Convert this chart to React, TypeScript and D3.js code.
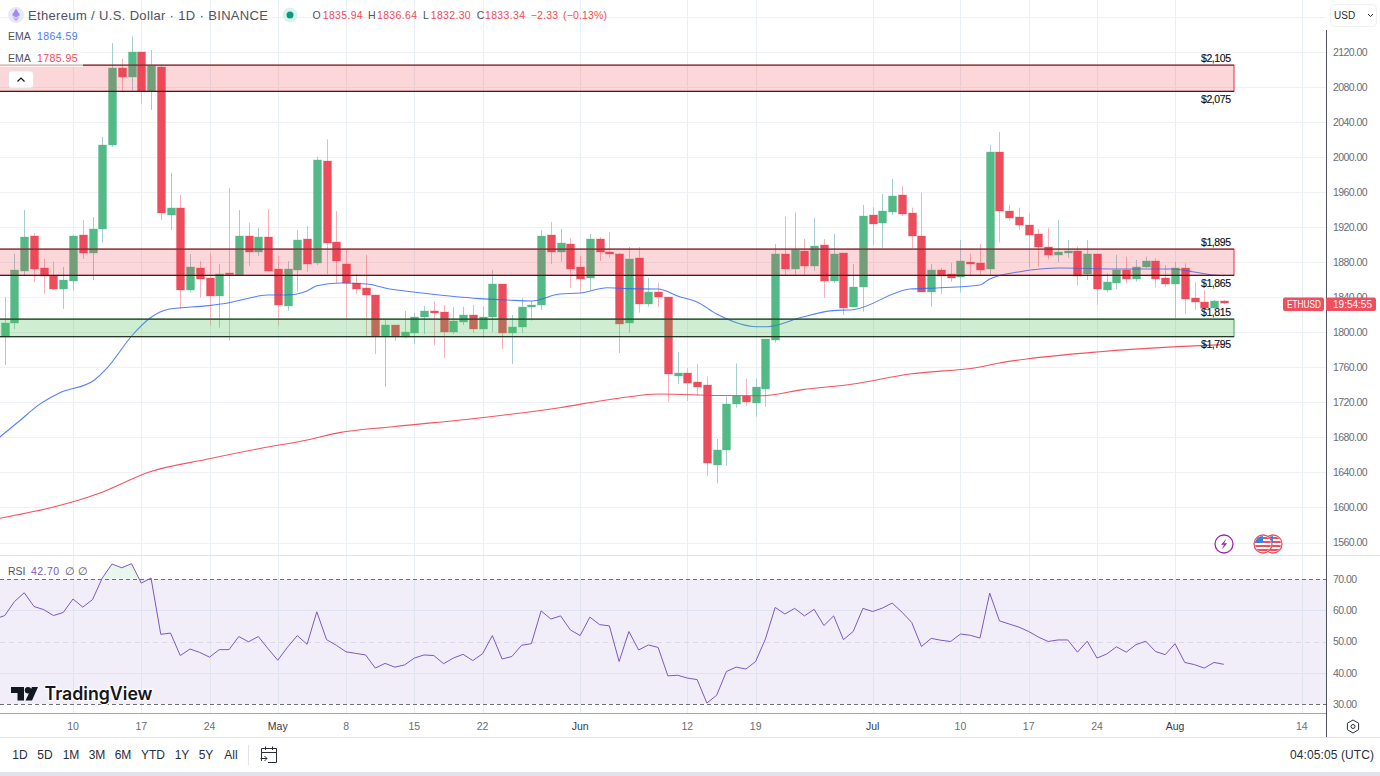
import React from "react";
import * as d3 from "d3";

const FONT = "'Liberation Sans', Arial, sans-serif";
const DAY = 86400000;
const firstCandle = Date.UTC(2023, 3, 3);

const opens = [1795,1810.6,1870.3,1910,1873.4,1864.3,1849.1,1858.9,1911.1,1890.9,1918,2013.9,2101.8,2091.1,2119.7,2075.2,2102.9,1933.9,1942.3,1848.3,1873.4,1862,1841.5,1867.7,1865.4,1910.3,1892,1908.8,1872.6,1830,1871.1,1906.5,1878.8,1995.6,1903.1,1878,1856,1850.2,1843,1795.8,1808.3,1795,1799.6,1817.1,1824.3,1823.2,1800.4,1811.8,1819.8,1803.8,1817.1,1854.8,1798.9,1806,1828.6,1830.8,1911.1,1892,1900.8,1874.2,1862.3,1906.9,1891.7,1889,1811,1884.8,1832,1846,1840.3,1750.1,1753.5,1743.3,1739.8,1648.5,1665.3,1717.8,1727.6,1719.6,1735.6,1791.6,1889.8,1871.9,1893.2,1875.4,1899.7,1858.6,1890.6,1828.6,1852,1933.9,1924.5,1937.4,1956.4,1935.9,1909.6,1846.4,1871.1,1866.2,1863.5,1880.6,1879.1,1872.3,2005.9,1938.5,1931.6,1922.5,1912.2,1897.4,1888.3,1890.9,1892.5,1866.6,1889.4,1848.7,1856.6,1871.5,1860.5,1874.6,1881.4,1862,1855.5,1873.4,1838.8,1834.6,1827.8,1835.94];
const closes = [1811,1871.1,1909.2,1872.3,1864.6,1849.1,1859.7,1910.3,1890.9,1918,2013.9,2101.8,2091.1,2119.7,2075.2,2104.4,1935.9,1942.3,1848.3,1874.2,1860.9,1841.5,1866.2,1866.2,1909.6,1891.7,1908.8,1870.3,1831.2,1871.9,1905.4,1878,1996.7,1902.3,1881,1856,1849.4,1842.6,1795.8,1808.3,1795.8,1800.4,1817.1,1824.3,1821.7,1800.4,1812.9,1819.8,1803.8,1817.1,1854.8,1798.9,1806,1828.6,1830.8,1909.6,1892,1901.6,1872.6,1861.2,1906.9,1892,1889.8,1809.8,1884,1832,1846,1840,1752.4,1753.5,1742.5,1737.9,1650.4,1665.6,1717.8,1727.3,1720.4,1737.2,1792.4,1889.8,1871.9,1894.3,1875.4,1898.5,1858.6,1889.8,1827.8,1852,1933.1,1923.7,1938.5,1955.6,1935.1,1910,1846.4,1871.1,1864.6,1862.3,1881,1878,1871.1,2005.9,1938.8,1930.9,1922.9,1911.4,1897.4,1888.3,1891.7,1892.5,1864.6,1889.4,1849.4,1857.8,1871.5,1860.5,1874.9,1881.4,1861.2,1855.2,1873.4,1838,1834.3,1828.1,1835.4,1833.34];
const highs = [1840.3,1889.4,1939.6,1913.4,1883.7,1880.6,1874.6,1911.1,1928.2,1931.6,2023,2130.3,2112,2137.5,2120,2122.3,2105.2,1981.9,1956.8,1889.4,1881.4,1890.6,1878,1964.8,1939.6,1924.8,1919.1,1940.8,1887.1,1881.4,1916.8,1921.4,2000.5,2020.4,1938.5,1893.9,1866.6,1888.3,1843,1814,1808.3,1824.3,1822,1830,1835.7,1831.2,1828.9,1829.2,1831.2,1829.2,1871.1,1855.2,1819.8,1839.2,1835.7,1916.8,1925.9,1917.9,1907.7,1887.1,1912.2,1908.8,1914.5,1890.6,1897.4,1897.4,1862,1856.3,1840.3,1777.5,1759.3,1763.8,1749.3,1678.2,1726.5,1764.6,1746.7,1746.7,1792.4,1900.8,1932,1936.6,1906.5,1930.8,1906.5,1912.2,1890.6,1878,1945.4,1943,1957.9,1975,1967,1942.3,1959.4,1878,1873.4,1879.5,1905.4,1890.2,1900.8,2013.9,2028.7,1945.4,1942.3,1935.9,1918,1919.4,1928.2,1905.4,1897.7,1905.4,1889.4,1867.4,1888.3,1886.3,1882.6,1886.3,1884.5,1876.8,1880.3,1878.8,1857.1,1848.3,1836.9,1836.64];
const lows = [1762.7,1803.8,1865.4,1857.4,1843.7,1848.3,1826.6,1847.5,1883.7,1859.7,1902,2011.6,2075.8,2075.8,2060.7,2053.8,1928.2,1916.8,1826.6,1845.2,1839.5,1807.6,1805.3,1790.4,1865.4,1875.7,1887.1,1870.3,1807.6,1824.7,1846.4,1869.2,1876.8,1866.6,1856.3,1814,1843.7,1795.8,1775.2,1737.9,1790.1,1793.2,1786.6,1798.1,1785.5,1770.7,1798.1,1808.3,1799.2,1793.5,1800.4,1781,1763.8,1799.2,1813.3,1825.5,1878,1880.3,1850.9,1844.9,1848.3,1881.4,1885.2,1776.4,1799.6,1822.4,1829.2,1828.9,1720.4,1741,1721.6,1727.6,1636.3,1627.6,1647.4,1713.9,1715.9,1703.6,1715,1788.1,1865.4,1865.4,1865.4,1870.3,1839.2,1856.6,1819.8,1828.6,1823.5,1898.9,1896.3,1933.9,1933.1,1896.3,1846.4,1829.2,1843.7,1857.4,1845.2,1864.3,1865.4,1864.3,1902.3,1927.1,1916.8,1874.2,1874.9,1883.4,1879.9,1885.2,1854,1859.7,1831.2,1845.7,1849.1,1856,1857.8,1873.1,1851.4,1851.4,1816.3,1820.9,1825.5,1823.5,1827,1832.3];

const emaFastAt = [-0.5,1.5,3.6,5.6,9.2,10.5,13.1,14.9,16.9,20.9,23,25.1,26.9,28.9,31,32,34.4,37.1,39.5,41.9,45.6,48.7,51.5,54,56.9,59,61.8,63.8,67,69.2,71,73,77.1,78.2,81.8,84.9,87,92.8,95.6,100,101,104.1,108.2,114,119.8,121.8,123.9,125];
const emaFast = [1680.5,1698.7,1718,1730.7,1745.6,1759.3,1796.9,1816.3,1826.6,1830.4,1833.8,1839.2,1842.6,1842.6,1847.2,1853.2,1856.3,1855.2,1849.4,1846,1841.4,1838.4,1836.9,1835.7,1843.7,1844.9,1850.9,1849.8,1849.4,1840.6,1834.6,1820.9,1806.4,1806.4,1817.5,1824.7,1825.8,1849.4,1850.6,1854,1860.9,1869.2,1873.4,1872.3,1872.3,1869.2,1865.4,1864.59];
const emaSlowAt = [-0.5,9.7,14.9,20.7,26.3,31,34.3,39.8,48.9,56.9,61.7,67.2,73,77.7,81.8,87,92.8,100,102,104.8,112,120.2,125];
const emaSlow = [1587.6,1616.2,1640.8,1655,1667.6,1677.1,1685.4,1692.2,1702.5,1713.9,1722.7,1729.6,1727.9,1727.6,1734.5,1741,1752.4,1760.4,1765,1769.5,1777.5,1783.6,1785.95];

const rsiLead = 57.2;
const rsi = [58.3,62.8,65.6,61.2,60.2,58.3,59.3,63.6,61,63.4,70.3,74.8,73.6,74.9,68.7,70.3,52.3,52.7,45.5,47.6,46.5,45,47.4,47.4,51.6,49.9,51.6,47.7,44,48.2,51.9,49.1,59.5,50.6,48.8,46.7,46.2,45.7,41.5,43,41.8,42.5,44.7,45.7,45.5,42.9,44.7,45.9,43.9,46.1,51.9,44.4,45.2,48.8,49.3,59.8,57.2,58.2,53.7,51.9,57.8,55.4,55,43.6,53.2,47.3,48.9,48.1,39,39.2,38.3,37.8,30.3,32.8,40.4,41.8,41.2,43.6,50.8,60.9,58.8,60.6,58.2,60.3,55.1,58.2,50.6,53.2,60.6,59.6,60.7,62.3,59.4,56.1,48.4,51,50.4,50,52.4,52,51.1,65.5,56.6,55.6,54.6,53.2,51.4,50,50.5,50.5,46.6,50.1,44.7,46,48.3,46.6,49,50.1,46.8,45.8,49.3,43.3,42.6,41.5,43.3,42.7];

const priceTicks = [2120,2080,2040,2000,1960,1920,1880,1840,1800,1760,1720,1680,1640,1600,1560];
const rsiTicks = [70,60,50,40,30];
const dateLabels = ["10","17","24","May","8","15","22","Jun","12","19","Jul","10","17","24","Aug","14"];
const dateValues = ["2023-04-10","2023-04-17","2023-04-24","2023-05-01","2023-05-08","2023-05-15","2023-05-22","2023-06-01","2023-06-12","2023-06-19","2023-07-01","2023-07-10","2023-07-17","2023-07-24","2023-08-01","2023-08-14"];
const monthLabels = ["May","Jun","Jul","Aug"];
const zoneHigh = [2105,1895,1815];
const zoneLow = [2075,1865,1795];
const zoneColor = ["red","red","green"];
const ranges = ["1D","5D","1M","3M","6M","YTD","1Y","5Y","All"];
const rangeX = [20,45,71,97,123,153,182,206,231];

const W = 1380, H = 776;
const axisX = 1326, zoneEnd = 1234;
const y = d3.scaleLinear().domain([1560, 2120]).range([542.5, 52]);
const ry = d3.scaleLinear().domain([30, 70]).range([704, 579]);
const xt = d3.scaleUtc().domain([Date.UTC(2023, 3, 10), Date.UTC(2023, 7, 1)]).range([73, 1175]);
const xi = (i: number) => xt(new Date(firstCandle + i * DAY));

const GREEN = "#53b987", RED = "#eb4d5c";
const GRAY = "#6a6d78", DARK = "#2a2e39";

const lineGen = d3.line<[number, number]>().x(d => d[0]).y(d => d[1]).curve(d3.curveLinear);
const smoothGen = d3.line<[number, number]>().x(d => d[0]).y(d => d[1]).curve(d3.curveMonotoneX);
const rsiPts: [number, number][] = [[xi(-1), ry(rsiLead)], ...rsi.map((v, i) => [xi(i), ry(v)] as [number, number])];
const rsiArea = d3.area<[number, number]>().x(d => d[0]).y0(ry(70)).y1(d => d[1]);

function T(p: any) {
  const { children, ...rest } = p;
  return <text fontFamily={FONT} {...rest}>{children}</text>;
}

function Candles() {
  return (
    <g>
      {opens.map((o, i) => {
        const c = closes[i];
        const up = c >= o;
        const cx = Math.round(xi(i));
        const top = Math.round(y(Math.max(o, c)));
        const bot = Math.round(y(Math.min(o, c)));
        return (
          <g key={i}>
            <line x1={cx + 0.5} x2={cx + 0.5} y1={y(highs[i])} y2={y(lows[i])} stroke={up ? "#a6cdd0" : "#f7b3bb"} strokeWidth={1} />
            <rect x={cx - 3.5} y={top} width={8} height={Math.max(bot - top, 1.5)} fill={up ? GREEN : RED} stroke={up ? "#53b98755" : "#eb4d5c55"} strokeWidth={1} />
          </g>
        );
      })}
    </g>
  );
}

function Zones() {
  return (
    <g>
      {zoneHigh.map((h, i) => {
        const isRed = zoneColor[i] === "red";
        const t = y(h), b = y(zoneLow[i]);
        return (
          <g key={i}>
            <rect x={-2} y={t} width={zoneEnd + 2} height={b - t} fill={isRed ? "rgba(242,54,69,0.2)" : "rgba(76,187,84,0.27)"} stroke={isRed ? "#e0303f" : "#3da64a"} strokeWidth={1} />
            <line x1={0} x2={zoneEnd} y1={t} y2={t} stroke={isRed ? "#5a3a3a" : "#1f2a20"} strokeWidth={1.2} opacity={0.85} />
            <line x1={0} x2={zoneEnd} y1={b} y2={b} stroke={isRed ? "#4a0d12" : "#1f2a20"} strokeWidth={1.4} opacity={0.9} />
          </g>
        );
      })}
    </g>
  );
}

function ZoneLabels() {
  const row = (v: number, above: boolean, key: string) => (
    <T key={key} x={1231} y={y(v) + (above ? -3.5 : 11.5)} fontSize={10.5} fill="#0d0f14" textAnchor="end" stroke="#0d0f14" strokeWidth={0.15} textLength={30} lengthAdjust="spacing">
      {"$" + d3.format(",")(v)}
    </T>
  );
  return (
    <g>
      {zoneHigh.map((v, i) => row(v, true, "h" + i))}
      {zoneLow.map((v, i) => row(v, false, "l" + i))}
    </g>
  );
}

function Header() {
  return (
    <g>
      <circle cx={16} cy={15} r={8} fill="#e8e8f6" />
      <path d="M16 8.5 L20 15 L16 17.5 L12 15 Z" fill="#9d8ee8" />
      <path d="M16 18.6 L20 16 L16 21.5 L12 16 Z" fill="#b7abf0" />
      <T x={28} y={19.5} fontSize={13} fill="#50535e" textLength={240} lengthAdjust="spacing">Ethereum / U.S. Dollar · 1D · BINANCE</T>
      <circle cx={290} cy={15} r={7.5} fill="#dcf2ee" />
      <circle cx={290} cy={15} r={3.5} fill="#089981" />
      {[["O", 312.5, "1835.94", 322.7], ["H", 368, "1836.64", 377], ["L", 423, "1832.30", 430.7], ["C", 476.7, "1833.34", 485]].map((r: any) => (
        <g key={r[0]}>
          <T x={r[1]} y={19} fontSize={10.5} fill="#50535e">{r[0]}</T>
          <T x={r[3]} y={19} fontSize={10.5} fill="#f23645" opacity={0.9} textLength={40} lengthAdjust="spacing">{r[2]}</T>
        </g>
      ))}
      <T x={530.7} y={19} fontSize={10.5} fill="#f23645" opacity={0.9} textLength={27.5} lengthAdjust="spacing">−2.33</T>
      <T x={563} y={19} fontSize={10.5} fill="#f23645" opacity={0.9} textLength={44} lengthAdjust="spacing">(−0.13%)</T>

      <rect x={0} y={47} width={83} height={20} fill="#ffffff" opacity={0.65} />
      <T x={8} y={40} fontSize={10.5} fill="#50535e">EMA</T>
      <T x={37} y={40} fontSize={10.5} fill="#2962ff" opacity={0.85} textLength={40.5} lengthAdjust="spacing">1864.59</T>
      <T x={8} y={62} fontSize={10.5} fill="#50535e">EMA</T>
      <T x={37} y={62} fontSize={10.5} fill="#f23645" opacity={0.9} textLength={40.5} lengthAdjust="spacing">1785.95</T>
      <rect x={8.5} y={71} width={25} height={17} rx={3} fill="#ffffff" stroke="#e0e3eb" />
      <path d="M17.5 81.5 L21 78 L24.5 81.5" fill="none" stroke="#131722" strokeWidth={1.2} />
    </g>
  );
}

function Events() {
  const flag = (cx: number, id: string) => (
    <g key={id}>
      <clipPath id={id}><circle cx={cx} cy={544} r={8} /></clipPath>
      <circle cx={cx} cy={544} r={9} fill="#ffffff" stroke="#f0515f" strokeWidth={1.3} />
      <g clipPath={`url(#${id})`}>
        {[0, 1, 2, 3].map(k => <rect key={k} x={cx - 9} y={537 + k * 4} width={18} height={2} fill="#ef4e5c" />)}
        <rect x={cx - 8} y={536} width={8} height={7} fill="#3f7fe0" />
      </g>
    </g>
  );
  return (
    <g>
      <circle cx={1224} cy={544} r={9} fill="#ffffff" stroke="#9c27b0" strokeWidth={1.3} />
      <path d="M1226.5 538.5 L1221 544.8 L1224 544.8 L1221.8 549.5 L1227.2 543.2 L1224.2 543.2 Z" fill="#9c27b0" />
      {flag(1273, "flagB")}
      {flag(1263, "flagA")}
    </g>
  );
}

function Watermark() {
  return (
    <g>
      <path d="M11 687 H24 V700.5 H17.5 V693 H11 Z" fill="#131722" />
      <circle cx={28} cy={690.3} r={3.2} fill="#131722" />
      <path d="M32 687 H38 L32 700.5 H25.5 Z" fill="#131722" />
      <T x={44.5} y={700} fontFamily="Inter, 'Liberation Sans', sans-serif" fontSize={18} fontWeight={600} fill="#131722" stroke="#ffffff" strokeWidth={2.5} paintOrder="stroke" textLength={108} lengthAdjust="spacingAndGlyphs">TradingView</T>
    </g>
  );
}

export default function App() {
  const fastLine = smoothGen(emaFastAt.map((d, i) => [xi(d), y(emaFast[i])] as [number, number]));
  const slowLine = smoothGen(emaSlowAt.map((d, i) => [xi(d), y(emaSlow[i])] as [number, number]));
  const dates = dateValues.map(d => new Date(d + "T00:00:00Z"));
  return (
    <svg width={W} height={H} viewBox={`0 0 ${W} ${H}`} style={{ position: "absolute", left: 0, top: 0, background: "#ffffff" }}>
      <defs>
        <clipPath id="plot"><rect x={0} y={0} width={axisX} height={555} /></clipPath>
        <clipPath id="above70"><rect x={0} y={556} width={axisX} height={ry(70) - 556} /></clipPath>
        <clipPath id="rsiPane"><rect x={0} y={556} width={axisX} height={157} /></clipPath>
      </defs>

      {/* grids */}
      {dates.map((d, i) => (
        <line key={i} x1={Math.round(xt(d)) + 0.5} x2={Math.round(xt(d)) + 0.5} y1={0} y2={713} stroke="#e9f0f4" />
      ))}
      {[2160, ...priceTicks].map(v => (
        <line key={v} x1={0} x2={axisX} y1={Math.round(y(v)) + 0.5} y2={Math.round(y(v)) + 0.5} stroke="#eef2f6" />
      ))}

      <g clipPath="url(#plot)">
        <Candles />
        <path d={slowLine!} fill="none" stroke="#f23645" strokeWidth={1.1} opacity={0.85} />
        <path d={fastLine!} fill="none" stroke="#2962ff" strokeWidth={1.1} opacity={0.8} />
        <Zones />
      </g>
      <ZoneLabels />
      <Header />
      <Events />

      {/* RSI pane */}
      <line x1={0} x2={W} y1={555.5} y2={555.5} stroke="#e0e3eb" />
      <rect x={0} y={ry(70)} width={axisX} height={ry(30) - ry(70)} fill="rgba(126,87,194,0.1)" />
      {[60, 40].map(v => (
        <line key={v} x1={0} x2={axisX} y1={Math.round(ry(v)) + 0.5} y2={Math.round(ry(v)) + 0.5} stroke="#dfe3f1" />
      ))}
      {dates.map((d, i) => (
        <line key={i} x1={Math.round(xt(d)) + 0.5} x2={Math.round(xt(d)) + 0.5} y1={ry(70)} y2={ry(30)} stroke="#e0e4f0" />
      ))}
      <path d={rsiArea(rsiPts)!} fill="#e9f6ec" clipPath="url(#above70)" />
      <line x1={0} x2={axisX} y1={Math.round(ry(50)) + 0.5} y2={Math.round(ry(50)) + 0.5} stroke="#dcd8e6" strokeDasharray="5 4" />
      <line x1={0} x2={axisX} y1={Math.round(ry(70)) + 0.5} y2={Math.round(ry(70)) + 0.5} stroke="#6f6f7a" strokeDasharray="4 3" />
      <line x1={0} x2={axisX} y1={Math.round(ry(30)) + 0.5} y2={Math.round(ry(30)) + 0.5} stroke="#6f6f7a" strokeDasharray="4 3" />
      <path d={lineGen(rsiPts)!} fill="none" stroke="#7e57c2" strokeWidth={1} clipPath="url(#rsiPane)" />
      <T x={8} y={574.5} fontSize={10.5} fill="#50535e">RSI</T>
      <T x={31} y={574.5} fontSize={10.5} fill="#7e57c2" textLength={28} lengthAdjust="spacing">42.70</T>
      <T x={65} y={574.5} fontSize={10.5} fill="#50535e">∅</T>
      <T x={78} y={574.5} fontSize={10.5} fill="#50535e">∅</T>
      <Watermark />

      {/* axes */}
      <line x1={0} x2={axisX} y1={713.5} y2={713.5} stroke="#a3a6af" />
      <line x1={0} x2={W} y1={737.5} y2={737.5} stroke="#e0e3eb" />
      <line x1={axisX + 0.5} x2={axisX + 0.5} y1={30} y2={737} stroke="#50535e" />
      <rect x={0} y={772} width={W} height={4} fill="#e0e3eb" />

      {priceTicks.map(v => (
        <T key={v} x={1333} y={y(v) + 3.8} fontSize={10.5} fill={GRAY} textLength={34.5} lengthAdjust="spacing">{d3.format(".2f")(v)}</T>
      ))}
      {rsiTicks.map(v => (
        <T key={v} x={1333} y={ry(v) + 3.8} fontSize={10.5} fill={GRAY} textLength={24} lengthAdjust="spacing">{d3.format(".2f")(v)}</T>
      ))}
      {dateLabels.map((l, i) => (
        <T key={i} x={xt(dates[i])} y={730} fontSize={10.5} textAnchor="middle" fill={monthLabels.includes(l) ? "#363a45" : GRAY}>{l}</T>
      ))}

      {/* price tag */}
      <rect x={1283} y={297.5} width={41} height={13.5} rx={2} fill="#ee4e5e" />
      <rect x={axisX} y={297.5} width={50} height={13.5} rx={2} fill="#ee4e5e" />
      <T x={1287} y={308} fontSize={10} fill="#ffffff" textLength={34} lengthAdjust="spacingAndGlyphs">ETHUSD</T>
      <T x={1333} y={308} fontSize={10} fill="#ffffff" textLength={39} lengthAdjust="spacing">19:54:55</T>

      {/* USD */}
      <rect x={1330.5} y={4.5} width={46} height={22} rx={4} fill="#ffffff" stroke="#eef0f4" />
      <T x={1334} y={18.5} fontSize={10} fill={DARK}>USD</T>
      <path d="M1368 14 L1370.5 16.5 L1373 14" fill="none" stroke={DARK} strokeWidth={1} />

      {/* settings icon */}
      <path d="M1353 720 L1358.6 723.2 L1358.6 729.7 L1353 733 L1347.4 729.7 L1347.4 723.2 Z" fill="none" stroke={DARK} strokeWidth={1} />
      <circle cx={1353} cy={726.5} r={2} fill="none" stroke={DARK} strokeWidth={1} />

      {/* bottom bar */}
      {ranges.map((r, i) => (
        <T key={r} x={rangeX[i]} y={759} fontSize={12} fill={DARK} textAnchor="middle">{r}</T>
      ))}
      <line x1={248.5} x2={248.5} y1={745} y2={765} stroke="#e0e3eb" />
      <g fill="none" stroke={DARK} strokeWidth={1}>
        <path d="M261.5 761 V748.5 H276.5 V762.5 H268" />
        <path d="M261.5 752.5 H276.5 M265.5 746.5 V750 M272.5 746.5 V750" />
        <path d="M260.5 758.5 H267 M264.5 756 L267 758.5 L264.5 761" />
      </g>
      <T x={1374} y={759} fontSize={12} fill={DARK} textAnchor="end" textLength={84} lengthAdjust="spacing">04:05:05 (UTC)</T>
    </svg>
  );
}
